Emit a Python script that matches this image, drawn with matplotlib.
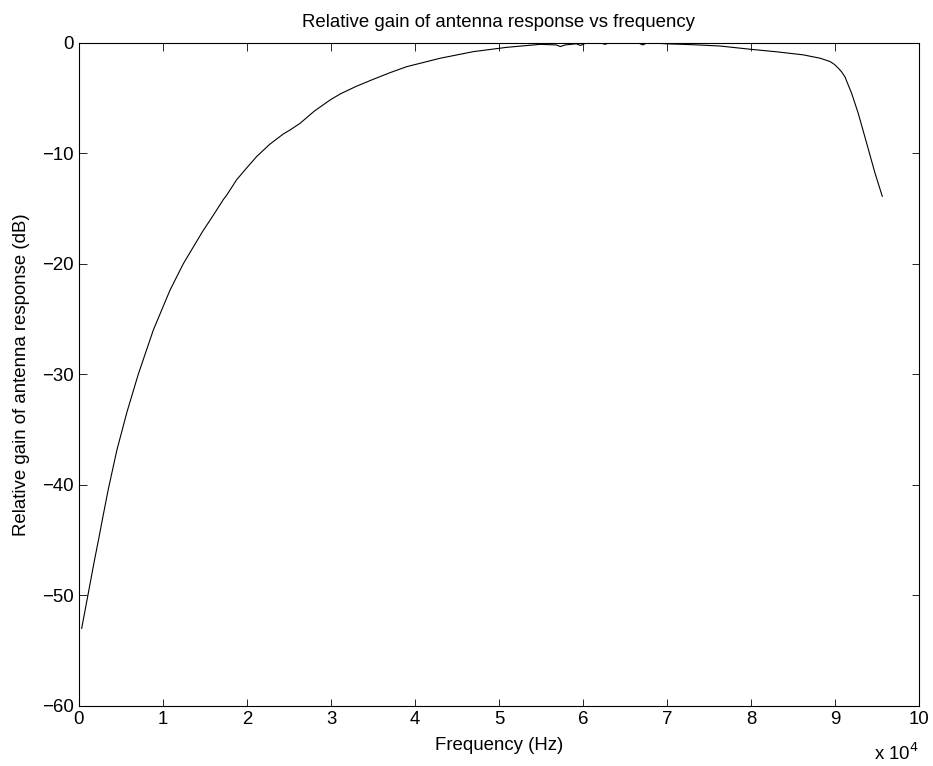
import matplotlib
matplotlib.use("Agg")
import matplotlib.pyplot as plt
from matplotlib.ticker import FuncFormatter

plt.rcParams['font.family'] = ['Liberation Sans', 'DejaVu Sans']

freq_hz = [320, 1110, 1800, 2370, 2820, 3490, 4500, 5680, 7060, 8850, 10830,
           12420, 13600, 14700, 16000, 17180, 17580, 18770, 20000, 21150, 22700,
           24320, 25120, 26310, 28000, 29880, 31070, 33000, 35040, 37000, 39010,
           42980, 46940, 50910, 54880, 56800, 57300, 57900, 59200, 59700, 60300,
           62000, 62600, 63200, 66500, 67100, 67700, 69960, 73000, 76310, 80000,
           83000, 86230, 87200, 88210, 89400, 89900, 90390, 90800, 91190, 91990,
           92770, 93770, 94760, 95630]
gain_db = [-53.0, -49.8, -47.0, -44.8, -43.0, -40.4, -36.9, -33.5, -30.0, -26.0, -22.4,
           -20.0, -18.5, -17.1, -15.6, -14.2, -13.8, -12.4, -11.3, -10.3, -9.2,
           -8.26, -7.9, -7.3, -6.2, -5.19, -4.65, -3.95, -3.31, -2.72, -2.17,
           -1.41, -0.81, -0.42, -0.15, -0.2, -0.35, -0.2, -0.1, -0.25, -0.05,
           0.0, -0.15, 0.0, 0.0, -0.2, 0.0, -0.1, -0.18, -0.3, -0.6,
           -0.82, -1.1, -1.25, -1.4, -1.7, -1.95, -2.3, -2.65, -3.1, -4.6,
           -6.4, -9.1, -11.8, -13.9]

x_ticks = [0, 10000, 20000, 30000, 40000, 50000, 60000, 70000, 80000, 90000, 100000]
y_ticks = [-60, -50, -40, -30, -20, -10, 0]

fs = 13.4
fig = plt.figure(figsize=(9.33, 7.66), dpi=100)
ax = fig.add_axes([79/933, 1 - 705.7/766, (919 - 79)/933, (705.7 - 42.7)/766])
ax.plot(freq_hz, gain_db, color='black', linewidth=0.8)
ax.set_xlim(0, 100000)
ax.set_ylim(-60, 0)
ax.set_xticks(x_ticks)
ax.set_yticks(y_ticks)
ax.xaxis.set_major_formatter(FuncFormatter(lambda v, p: f"{v/1e4:g}"))
ax.tick_params(direction='in', length=5.4, width=0.6, top=True, right=True,
               labelsize=fs, pad=4)
for s in ax.spines.values():
    s.set_linewidth(0.8)
ax.set_title('Relative gain of antenna response vs frequency', fontsize=fs, pad=11)
ax.set_xlabel('Frequency (Hz)', fontsize=fs, labelpad=6)
ax.set_ylabel('Relative gain of antenna response (dB)', fontsize=fs, labelpad=8)
ax.text(1.0, -0.072, r'x 10$^{4}$', transform=ax.transAxes, ha='right', va='center',
        fontsize=fs)
fig.savefig('out.png', dpi=100)
